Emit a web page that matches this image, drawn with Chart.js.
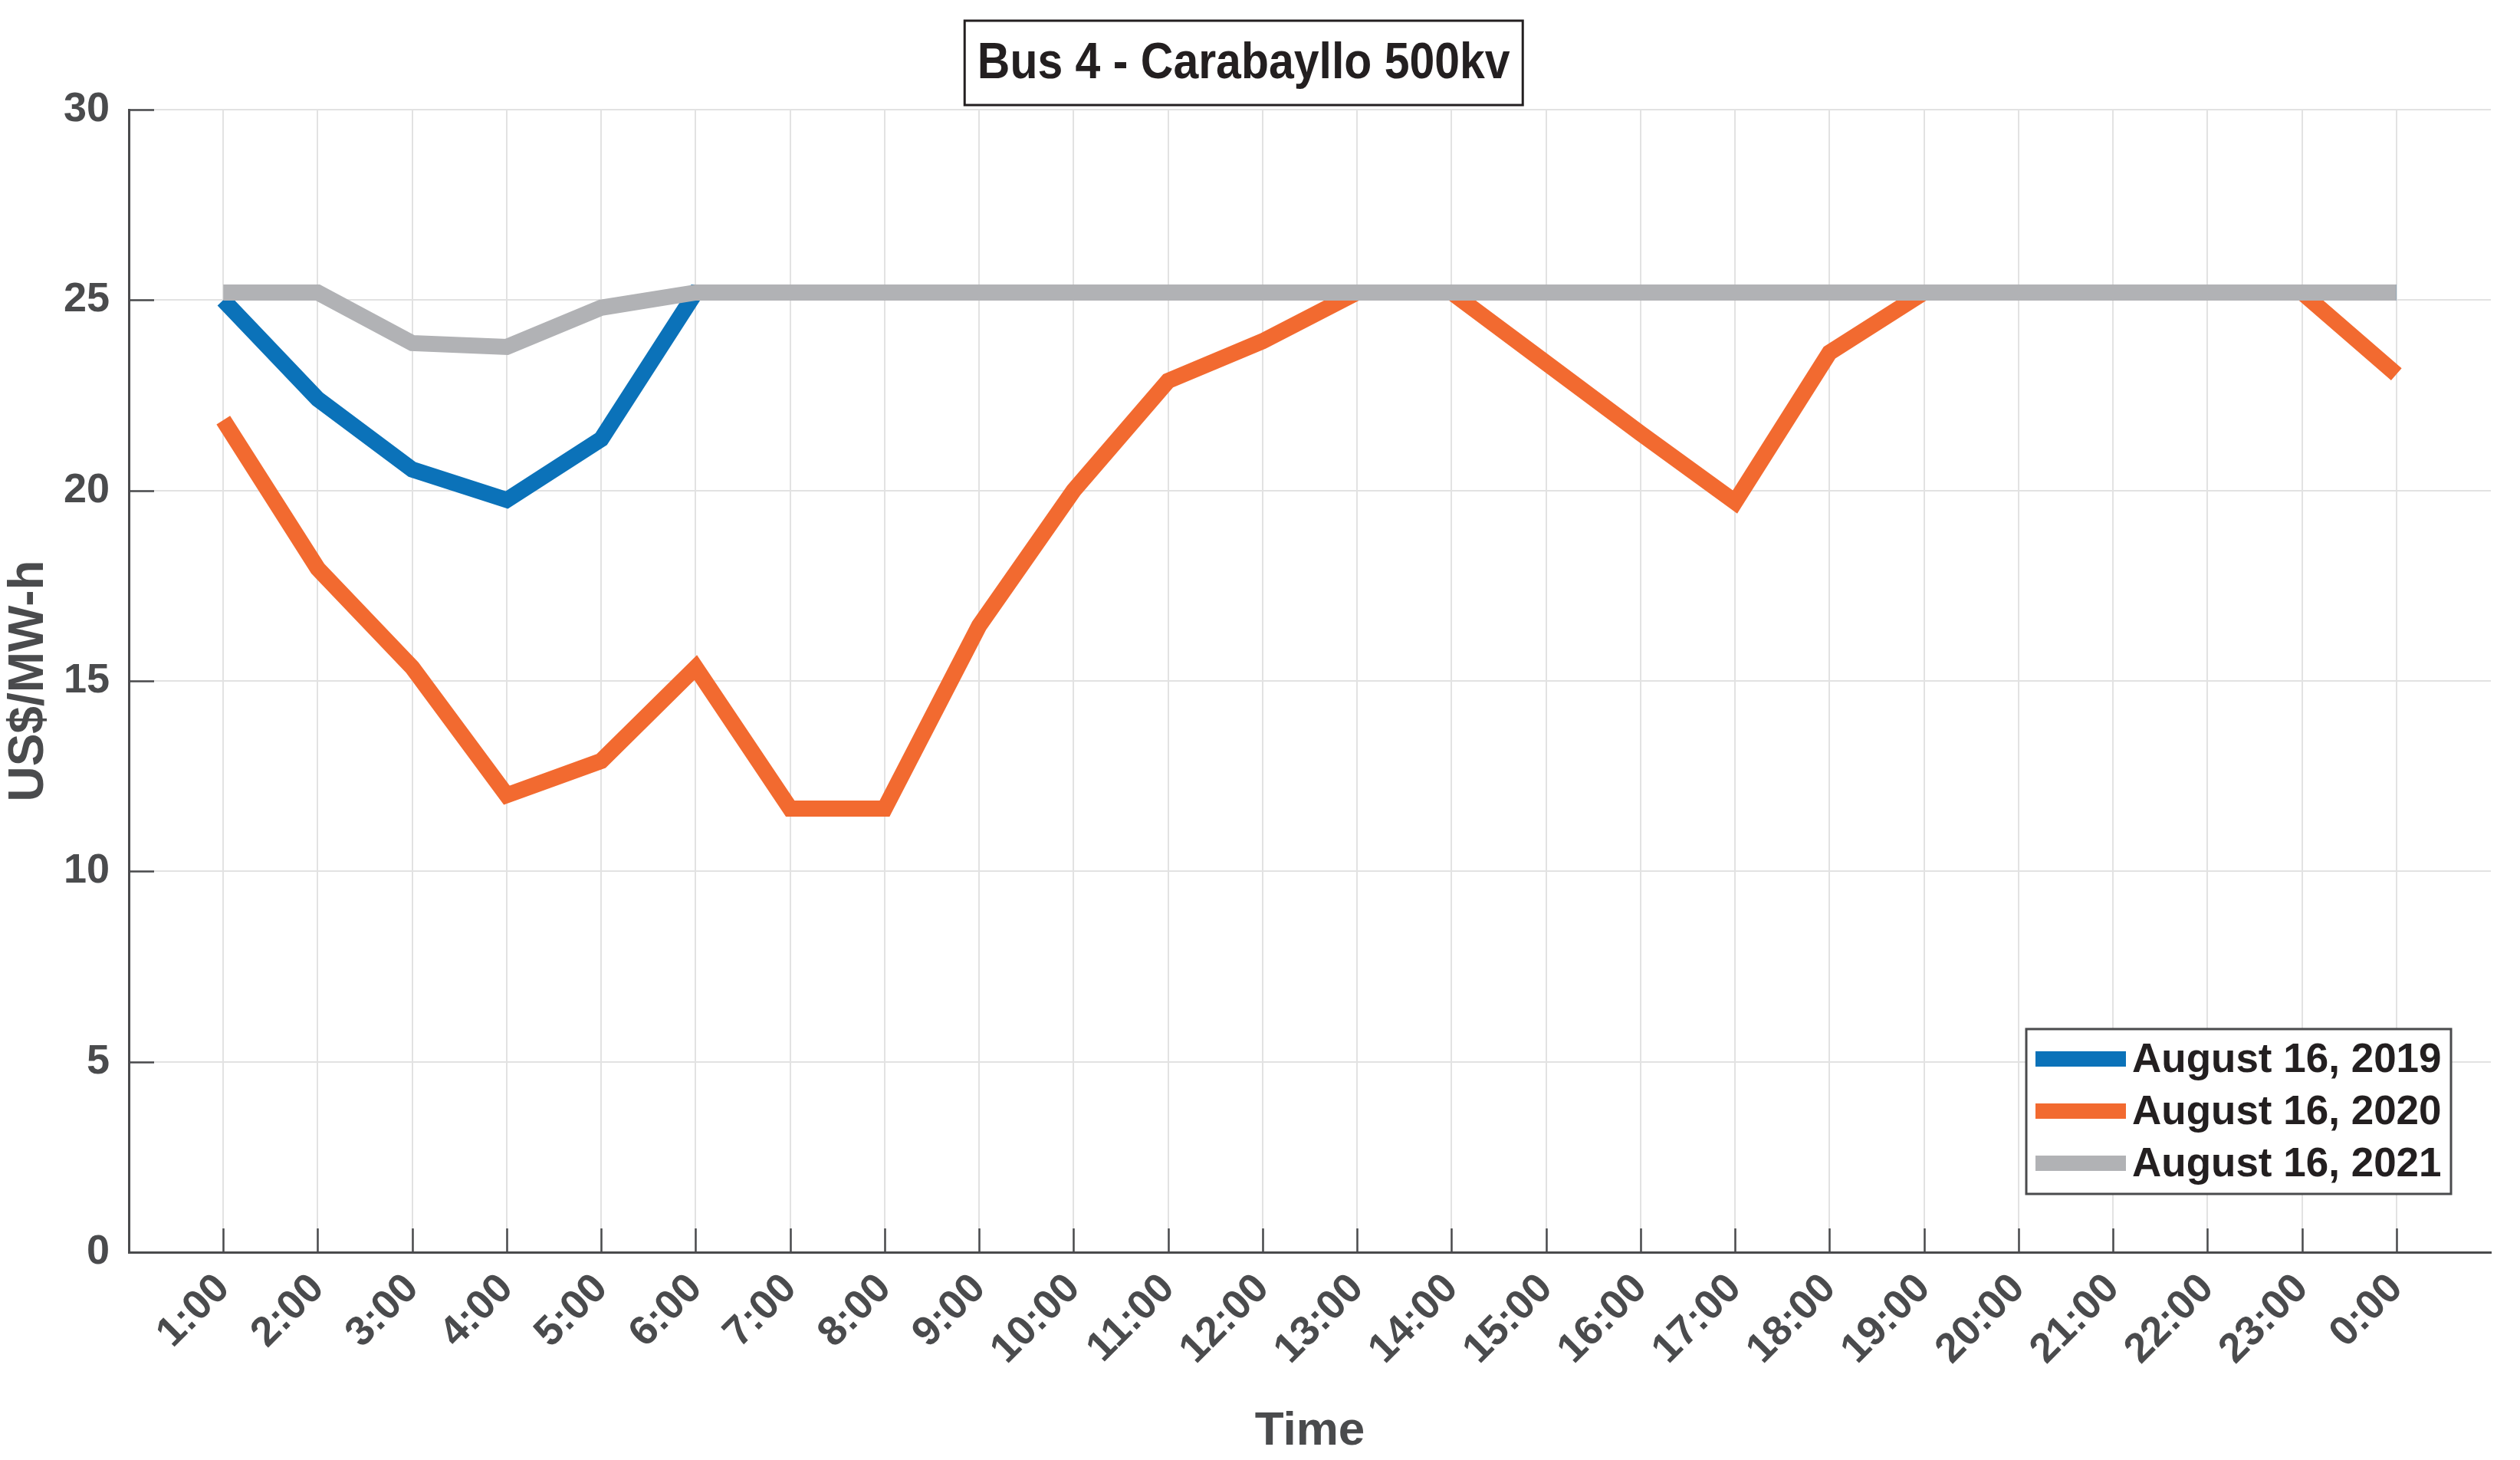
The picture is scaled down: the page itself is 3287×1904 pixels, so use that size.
<!DOCTYPE html>
<html>
<head>
<meta charset="utf-8">
<title>Bus 4 - Carabayllo 500kv</title>
<script src="https://cdn.jsdelivr.net/npm/chart.js@4.4.1/dist/chart.umd.min.js"></script>
<style>
    html, body { margin: 0; padding: 0; background: #fff; }
    #wrap { width: 3287px; height: 1904px; position: relative; }
</style>
</head>
<body>
<div id="wrap"><canvas id="chart-bus4"></canvas></div>
<script>
// horas del dia (eje x)
const hours = ['1:00','2:00','3:00','4:00','5:00','6:00','7:00','8:00','9:00','10:00','11:00','12:00',
               '13:00','14:00','15:00','16:00','17:00','18:00','19:00','20:00','21:00','22:00','23:00','0:00'];

// costo marginal US$/MW-h
const price2019 = [25.0, 22.4, 20.55, 19.75, 21.35, 25.2, 25.2, 25.2, 25.2, 25.2, 25.2, 25.2,
                   25.2, 25.2, 25.2, 25.2, 25.2, 25.2, 25.2, 25.2, 25.2, 25.2, 25.2, 25.2];
const price2020 = [21.85, 17.95, 15.35, 12.0, 12.9, 15.35, 11.65, 11.65, 16.45, 20.0, 22.88, 23.92,
                   25.2, 25.2, 23.35, 21.5, 19.7, 23.62, 25.2, 25.2, 25.2, 25.2, 25.2, 23.05];
const price2021 = [25.2, 25.2, 23.87, 23.77, 24.8, 25.2, 25.2, 25.2, 25.2, 25.2, 25.2, 25.2,
                   25.2, 25.2, 25.2, 25.2, 25.2, 25.2, 25.2, 25.2, 25.2, 25.2, 25.2, 25.2];

const seriesLabels = ['August 16, 2019', 'August 16, 2020', 'August 16, 2021'];
const yTicks = [0, 5, 10, 15, 20, 25, 30];

const AXIS_COLOR = '#4a4b4d';
const FONT = '"Liberation Sans", Arial, sans-serif';

const toPoints = arr => arr.map((v, i) => ({ x: i + 1, y: v }));

// fondo blanco, ticks hacia adentro (estilo matlab), titulo con caja y leyenda
const matlabLook = {
    id: 'matlabLook',
    beforeDraw(chart) {
        const ctx = chart.ctx;
        ctx.save();
        ctx.fillStyle = '#fff';
        ctx.fillRect(0, 0, chart.width, chart.height);
        ctx.restore();
    },
    afterDatasetsDraw(chart) {
        const { ctx, chartArea: ca, scales } = chart;
        ctx.save();
        ctx.strokeStyle = AXIS_COLOR;
        ctx.lineWidth = 2.5;
        ctx.beginPath();
        yTicks.forEach(v => {
            const y = Math.round(scales.y.getPixelForValue(v)) + 0.5;
            ctx.moveTo(ca.left, y);
            ctx.lineTo(ca.left + 33, y);
        });
        hours.forEach((h, i) => {
            const x = Math.round(scales.x.getPixelForValue(i + 1)) + 0.5;
            ctx.moveTo(x, ca.bottom);
            ctx.lineTo(x, ca.bottom - 31);
        });
        ctx.stroke();

        // leyenda
        const lx = ca.right - 606, ly = ca.bottom - 291, lw = 554, lh = 215;
        ctx.fillStyle = '#fff';
        ctx.fillRect(lx, ly, lw, lh);
        ctx.strokeStyle = AXIS_COLOR;
        ctx.lineWidth = 3;
        ctx.strokeRect(lx, ly, lw, lh);
        ctx.font = 'bold 53px ' + FONT;
        ctx.textBaseline = 'middle';
        ctx.textAlign = 'left';
        chart.data.datasets.forEach((ds, i) => {
            const cy = ly + 39 + i * 68;
            ctx.strokeStyle = ds.borderColor;
            ctx.lineWidth = 20;
            ctx.beginPath();
            ctx.moveTo(lx + 12, cy);
            ctx.lineTo(lx + 130, cy);
            ctx.stroke();
            ctx.fillStyle = '#231f20';
            ctx.fillText(ds.label, lx + 138, cy + 2);
        });
        ctx.restore();
    },
    afterDraw(chart) {
        const { ctx, chartArea: ca } = chart;
        const cx = ca.left + (ca.right - ca.left) * 0.472;
        ctx.save();
        ctx.fillStyle = '#fff';
        ctx.fillRect(cx - 364, 27, 728, 110);
        ctx.strokeStyle = '#231f20';
        ctx.lineWidth = 3;
        ctx.strokeRect(cx - 364, 27, 728, 110);
        ctx.translate(cx, 84);
        ctx.scale(0.88, 1);
        ctx.font = 'bold 67px ' + FONT;
        ctx.fillStyle = '#231f20';
        ctx.textAlign = 'center';
        ctx.textBaseline = 'middle';
        ctx.fillText('Bus 4 - Carabayllo 500kv', 0, 0);
        ctx.restore();
    }
};

new Chart(document.getElementById('chart-bus4'), {
    type: 'line',
    data: {
        datasets: [
            { label: seriesLabels[0], data: toPoints(price2019), borderColor: '#0b72b9', order: 3 },
            { label: seriesLabels[1], data: toPoints(price2020), borderColor: '#f26a30', order: 2 },
            { label: seriesLabels[2], data: toPoints(price2021), borderColor: '#b1b2b5', order: 1 }
        ].map(ds => Object.assign(ds, {
            borderWidth: 21, pointRadius: 0, fill: false, tension: 0,
            borderJoinStyle: 'miter', borderCapStyle: 'butt', clip: false
        }))
    },
    options: {
        responsive: true,
        maintainAspectRatio: false,
        devicePixelRatio: 1,
        animation: false,
        layout: { padding: { top: 143, right: 38, left: 0, bottom: 0 } },
        plugins: { legend: { display: false }, title: { display: false }, tooltip: { enabled: false } },
        scales: {
            x: {
                type: 'linear', min: 0, max: 25,
                afterFit: s => { s.height = 271; s.paddingLeft = 0; s.paddingRight = 0; },
                border: { color: AXIS_COLOR, width: 3 },
                grid: {
                    color: c => (c.tick.value >= 1 && c.tick.value <= 24) ? '#e2e2e2' : 'rgba(0,0,0,0)',
                    lineWidth: 2, drawTicks: false, tickLength: 0
                },
                ticks: {
                    stepSize: 1, autoSkip: false, maxRotation: 45, minRotation: 45, padding: 16,
                    color: AXIS_COLOR, font: { family: FONT, size: 54, weight: 'bold' },
                    callback: v => (v >= 1 && v <= 24) ? hours[v - 1] : ''
                },
                title: {
                    display: true, text: 'Time', color: AXIS_COLOR,
                    font: { family: FONT, size: 62, weight: 'bold' }, padding: { top: 0, bottom: 0 }
                }
            },
            y: {
                min: 0, max: 30,
                afterFit: s => { s.width = 168; s.paddingTop = 0; s.paddingBottom = 0; },
                border: { color: AXIS_COLOR, width: 3 },
                grid: { color: '#e2e2e2', lineWidth: 2, drawTicks: false, tickLength: 0 },
                ticks: {
                    stepSize: 5, padding: 25, color: AXIS_COLOR,
                    font: { family: FONT, size: 54, weight: 'bold' }
                },
                title: {
                    display: true, text: 'US$/MW-h', color: AXIS_COLOR,
                    font: { family: FONT, size: 64, weight: 'bold' }, padding: { top: 0, bottom: 0 }
                }
            }
        }
    },
    plugins: [matlabLook]
});
</script>
</body>
</html>
